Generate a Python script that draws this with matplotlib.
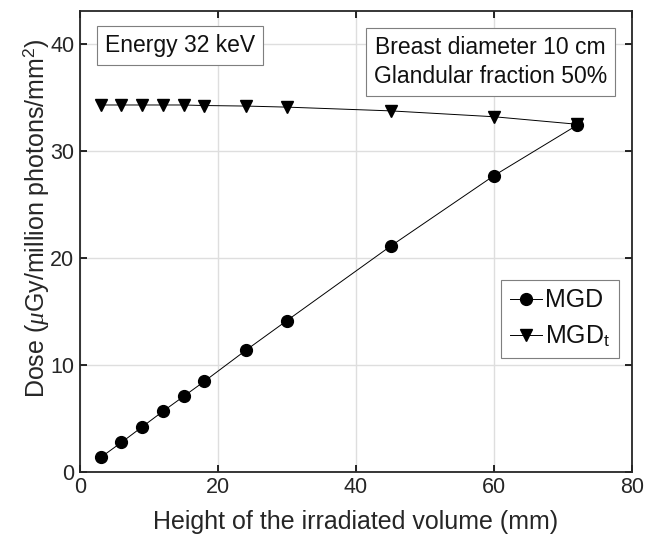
import numpy as np
import matplotlib
matplotlib.use("Agg")
import matplotlib.pyplot as plt

plt.rcParams['font.family'] = ['Liberation Sans', 'DejaVu Sans']
plt.rcParams['mathtext.fontset'] = 'custom'
plt.rcParams['mathtext.rm'] = 'Liberation Sans'
plt.rcParams['mathtext.it'] = 'Liberation Serif:italic'

height = [3, 6, 9, 12, 15, 18, 24, 30, 45, 60, 72]
mgd = [1.35, 2.75, 4.2, 5.65, 7.05, 8.45, 11.35, 14.15, 21.1, 27.7, 32.4]
mgd_t = [34.3, 34.3, 34.3, 34.3, 34.3, 34.25, 34.2, 34.1, 33.75, 33.2, 32.5]

fig = plt.figure(figsize=[6.45, 5.43], dpi=100)
ax = fig.add_axes([0.124, 0.131, 0.856, 0.849])

ax.plot(height, mgd, color="k", linewidth=0.7, marker="o", markersize=8.5, label="MGD")
ax.plot(height, mgd_t, color="k", linewidth=0.7, marker="v", markersize=8.5, label="MGD$_\\mathrm{t}$")

ax.set_xlim(0, 80)
ax.set_ylim(0, 43.1)
ax.set_xticks([0, 20, 40, 60, 80])
ax.set_yticks([0, 10, 20, 30, 40])
ax.grid(True, color="#dedede", linewidth=1)
ax.set_axisbelow(True)
ax.tick_params(direction="in", top=True, right=True, labelsize=15.5, length=5, width=1.2, pad=4,
               labelcolor="#262626")
for s in ax.spines.values():
    s.set_linewidth(1.3)
    s.set_color("#262626")

ax.set_xlabel("Height of the irradiated volume (mm)", fontsize=18, color="#262626", labelpad=8)
ax.set_ylabel(r"Dose ($\mu$Gy/million photons/mm$^2$)", fontsize=18, color="#262626")
ax.yaxis.set_label_coords(-0.052, 0.55)

box = dict(boxstyle="square,pad=0.35", facecolor="white", edgecolor="#7f7f7f", linewidth=0.8)
ax.text(0.181, 0.924, "Energy 32 keV", transform=ax.transAxes, fontsize=16.5, va="center", ha="center",
        bbox=box, color="#111111")
ax.text(0.744, 0.889, "Breast diameter 10 cm\nGlandular fraction 50%", transform=ax.transAxes,
        fontsize=16.5, va="center", ha="center", bbox=box, linespacing=1.3, color="#111111")

leg = ax.legend(loc="center", bbox_to_anchor=(0.869, 0.332), fontsize=18, handlelength=1.3,
                handletextpad=0.1, borderpad=0.35, labelspacing=0.45, fancybox=False,
                edgecolor="#7f7f7f", framealpha=1, borderaxespad=0)
leg.get_frame().set_linewidth(0.8)
for t in leg.get_texts():
    t.set_color("#111111")

plt.savefig("out.png", dpi=100)
